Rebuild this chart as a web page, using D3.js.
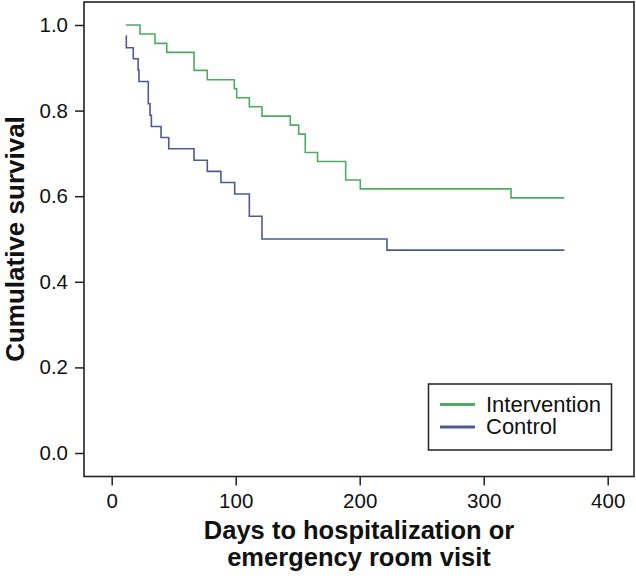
<!DOCTYPE html>
<html>
<head>
<meta charset="utf-8">
<script src="https://cdn.jsdelivr.net/npm/d3@7"></script>
<style>
  html, body { margin: 0; padding: 0; background: #fff; }
  svg { display: block; }
</style>
</head>
<body>
<svg id="chart" width="636" height="580"></svg>
<script>
// ---- Data ----
const interventionDays = [11.3, 22.8, 34.9, 44.4, 66.4, 77.1, 98.9, 100.8, 111, 121.2, 144, 150.8, 156.1, 166, 188.7, 200.5, 322, 365];
const interventionSurv = [1.000, 0.979, 0.957, 0.936, 0.894, 0.872, 0.851, 0.830, 0.809, 0.787, 0.766, 0.745, 0.702, 0.681, 0.638, 0.617, 0.596, 0.596];

const controlDays = [11.3, 11.8, 17.4, 21.3, 22.0, 29.5, 30.9, 32.0, 39.8, 46.0, 66.4, 77.1, 88.1, 99.2, 111, 121.2, 222, 365];
const controlSurv = [0.974, 0.947, 0.921, 0.895, 0.868, 0.816, 0.789, 0.763, 0.737, 0.711, 0.684, 0.658, 0.632, 0.605, 0.553, 0.500, 0.474, 0.474];

const xTicks = [0, 100, 200, 300, 400];
const yTicks = [0.0, 0.2, 0.4, 0.6, 0.8, 1.0];
const seriesNames = ["Intervention", "Control"];
const seriesColors = ["#4cac5f", "#4e5893"];
const xTitleLines = ["Days to hospitalization or", "emergency room visit"];

// ---- Layout ----
const svg = d3.select("#chart");
const frame = { left: 84, right: 634, top: 2, bottom: 476.5 };

const x = d3.scaleLinear().domain([0, 400]).range([111.7, 607.7]);
const y = d3.scaleLinear().domain([0, 1]).range([453, 25]);

// frame
svg.append("rect")
  .attr("x", frame.left).attr("y", frame.top)
  .attr("width", frame.right - frame.left)
  .attr("height", frame.bottom - frame.top)
  .attr("fill", "none").attr("stroke", "#222").attr("stroke-width", 1.6);

// axes
const xAxis = svg.append("g")
  .attr("transform", `translate(0,${frame.bottom})`)
  .call(d3.axisBottom(x).tickValues(xTicks).tickFormat(d3.format("d")).tickSize(9).tickPadding(8).tickSizeOuter(0));
xAxis.select(".domain").remove();

const yAxis = svg.append("g")
  .attr("transform", `translate(${frame.left},0)`)
  .call(d3.axisLeft(y).tickValues(yTicks).tickFormat(d3.format(".1f")).tickSize(9).tickPadding(7).tickSizeOuter(0));
yAxis.select(".domain").remove();

svg.selectAll(".tick line").attr("stroke", "#222").attr("stroke-width", 1.5);
svg.selectAll(".tick text")
  .attr("fill", "#111")
  .style("font-family", "'Liberation Sans', Arial, sans-serif")
  .style("font-size", "20.5px");

// axis titles
svg.append("text")
  .attr("transform", `translate(23.5,239) rotate(-90)`)
  .attr("text-anchor", "middle")
  .attr("fill", "#111")
  .style("font-family", "'Liberation Sans', Arial, sans-serif")
  .style("font-weight", "bold")
  .style("font-size", "26px")
  .text("Cumulative survival");

xTitleLines.forEach((t, i) => {
  svg.append("text")
    .attr("x", 359).attr("y", 538.5 + i * 27)
    .attr("text-anchor", "middle")
    .attr("fill", "#111")
    .style("font-family", "'Liberation Sans', Arial, sans-serif")
    .style("font-weight", "bold")
    .style("font-size", "25.5px")
    .text(t);
});

// curves
const line = d3.line().x(d => x(d[0])).y(d => y(d[1])).curve(d3.curveStepAfter);
const series = [
  interventionDays.map((d, i) => [d, interventionSurv[i]]),
  controlDays.map((d, i) => [d, controlSurv[i]])
];
series.forEach((s, i) => {
  svg.append("path")
    .datum(s)
    .attr("d", line)
    .attr("fill", "none")
    .attr("stroke", seriesColors[i])
    .attr("stroke-width", 1.6);
});

// legend
const lg = svg.append("g");
lg.append("rect")
  .attr("x", 428.5).attr("y", 384)
  .attr("width", 183).attr("height", 66)
  .attr("fill", "#fff").attr("stroke", "#222").attr("stroke-width", 1.5);
seriesNames.forEach((name, i) => {
  const cy = 404.5 + i * 22.5;
  lg.append("line")
    .attr("x1", 440).attr("x2", 475)
    .attr("y1", cy).attr("y2", cy)
    .attr("stroke", seriesColors[i]).attr("stroke-width", 3);
  lg.append("text")
    .attr("x", 486).attr("y", cy + 7)
    .attr("fill", "#111")
    .style("font-family", "'Liberation Sans', Arial, sans-serif")
    .style("font-size", "22px")
    .text(name);
});
</script>
</body>
</html>
